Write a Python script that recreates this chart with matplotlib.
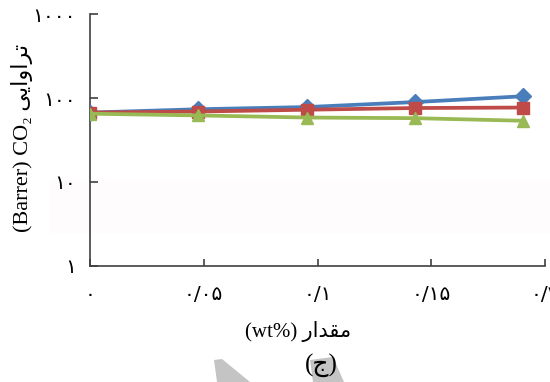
import matplotlib
matplotlib.use("Agg")
import matplotlib.pyplot as plt
from matplotlib.patches import Polygon, Rectangle
import numpy as np

# ---- data ----
x_vals = [0.0, 0.05, 0.10, 0.15, 0.20]
blue_vals = [67, 73.5, 78, 89.5, 105]
red_vals = [67, 69, 72.5, 76, 77]
green_vals = [65, 62, 58.5, 57.5, 53.5]

x_tick_labels = ["\u06F0", "\u06F0/\u06F0\u06F5", "\u06F0/\u06F1", "\u06F0/\u06F1\u06F5", "\u06F0/\u06F2"]
y_ticks = [1, 10, 100, 1000]
y_tick_labels = ["\u06F1", "\u06F1\u06F0", "\u06F1\u06F0\u06F0", "\u06F1\u06F0\u06F0\u06F0"]

# Persian text in visual (left-to-right) order with presentation forms
ylabel_text = "(Barrer) CO\u2082 " + "\uFBFD\uFBFE\uFE8D\uFEED\uFE8D\uFEAE\uFE97"
xlabel_text = "(wt%) " + "\uFEAD\uFE8D\uFEAA\uFED8\uFEE3"
caption_text = "(\uFE9D)"

W, H = 550, 382
fig = plt.figure(figsize=(5.5, 3.82), dpi=100)
fig.patch.set_facecolor("white")

# faint shaded band
fig.patches.append(Rectangle((50 / W, 1 - 234 / H), 500 / W, 54 / H,
                             transform=fig.transFigure, facecolor="#fefcfd",
                             edgecolor="none", zorder=0))
# grey watermark fragments
fig.patches.append(Polygon([(214 / W, 1 - 360 / H), (222 / W, 1 - 359 / H),
                            (250 / W, 1 - 382 / H), (217 / W, 1 - 382 / H)],
                           closed=True, transform=fig.transFigure,
                           facecolor="#c4c4c4", edgecolor="none", zorder=0))
fig.patches.append(Polygon([(310 / W, 1 - 360 / H), (333 / W, 1 - 357 / H),
                            (344 / W, 1 - 382 / H), (313 / W, 1 - 382 / H)],
                           closed=True, transform=fig.transFigure,
                           facecolor="#c4c4c4", edgecolor="none", zorder=0))

ax = fig.add_axes([90 / W, 1 - 265.5 / H, 455 / W, (265.5 - 14.3) / H])
ax.set_facecolor("none")
ax.set_zorder(2)

ax.plot(x_vals, blue_vals, color="#4A7EBB", lw=2.7, marker="D", ms=8,
        markeredgecolor="#4A7EBB", zorder=3)
ax.plot(x_vals, red_vals, color="#BE4B48", lw=2.7, marker="s", ms=9,
        markeredgecolor="#BE4B48", zorder=4)
ax.plot(x_vals, green_vals, color="#98B954", lw=2.7, marker="^", ms=9,
        markeredgecolor="#98B954", zorder=5)

ax.set_yscale("log")
ax.set_ylim(1, 1000)
ax.set_xlim(0, 0.21)
ax.set_yticks(y_ticks)
ax.set_yticklabels(y_tick_labels, fontfamily="DejaVu Sans", fontsize=14.5)
ax.yaxis.set_minor_locator(matplotlib.ticker.NullLocator())
ax.set_xticks(np.linspace(0, 0.21, 5))
ax.set_xticklabels(x_tick_labels, fontfamily="DejaVu Sans", fontsize=14.5)

for s in ["top", "right"]:
    ax.spines[s].set_visible(False)
for s in ["left", "bottom"]:
    ax.spines[s].set_color("#404040")
    ax.spines[s].set_linewidth(1.2)
ax.tick_params(axis="y", direction="in", length=6, width=1.2, color="#404040", pad=10)
ax.tick_params(axis="x", direction="in", length=5, width=1.2, color="#404040", pad=14)

fig.text(22 / W, 1 - 138 / H, ylabel_text, rotation=90, ha="center", va="center",
         fontsize=16, family=["Liberation Serif", "DejaVu Sans"])
fig.text(298 / W, 1 - 331 / H, xlabel_text, ha="center", va="center",
         fontsize=15, family=["Liberation Serif", "DejaVu Sans"])
fig.text(321 / W, 1 - 365 / H, caption_text, ha="center", va="center",
         fontsize=18, family=["Liberation Serif", "DejaVu Sans"], zorder=5)

fig.savefig("out.png", dpi=100)
